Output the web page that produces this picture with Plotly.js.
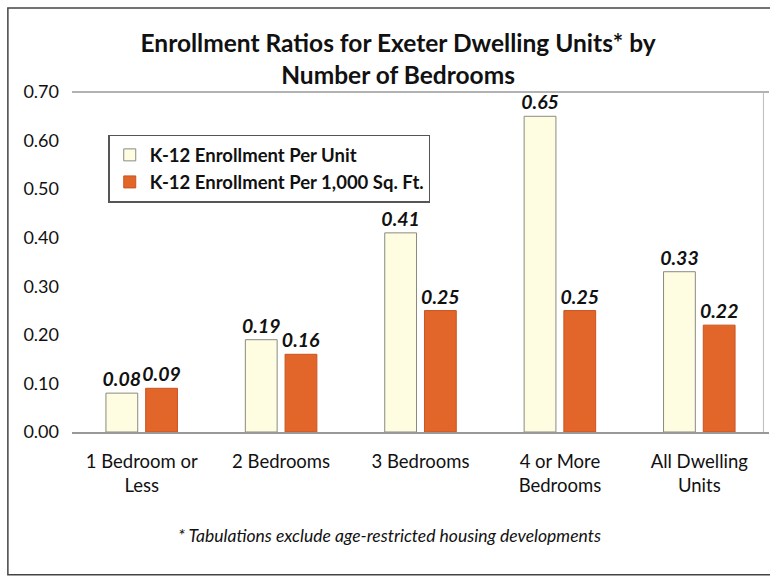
<!DOCTYPE html>
<html><head><meta charset="utf-8">
<script src="https://cdn.plot.ly/plotly-3.0.1.min.js"></script>
<style>html,body{margin:0;padding:0;background:#fff}#chart{width:770px;height:580px}</style>
</head><body><div id="chart"></div>
<script>
const categories = ["1 Bedroom or<br>Less", "2 Bedrooms", "3 Bedrooms", "4 or More<br>Bedrooms", "All Dwelling<br>Units"];
const perUnit = [0.08, 0.19, 0.41, 0.65, 0.33];
const perSqFt = [0.09, 0.16, 0.25, 0.25, 0.22];
const seriesNames = ["K-12 Enrollment Per Unit", "K-12 Enrollment Per 1,000 Sq. Ft."];
const yTicks = [0, 0.1, 0.2, 0.3, 0.4, 0.5, 0.6, 0.7];
const yTickLabels = ["0.00", "0.10", "0.20", "0.30", "0.40", "0.50", "0.60", "0.70"];

const font = "Lato, 'Open Sans', sans-serif";
const labelFont = {family: font, size: 19.5, color: "#111", weight: 700, style: "italic"};

const traces = [
  {type: "bar", name: seriesNames[0], x: categories, y: perUnit,
   marker: {color: "#FEFDE2", line: {color: "#8a8a80", width: 1}},
   text: perUnit.map(v => v.toFixed(2)), textposition: "outside", textfont: labelFont,
   constraintext: "none", cliponaxis: false},
  {type: "bar", name: seriesNames[1], x: categories, y: perSqFt,
   marker: {color: "#E2652A", line: {color: "#c85520", width: 1}},
   text: perSqFt.map(v => v.toFixed(2)), textposition: "outside", textfont: labelFont,
   constraintext: "none", cliponaxis: false}
];

const layout = {
  width: 770, height: 580,
  margin: {l: 72, r: 1, t: 92, b: 148},
  paper_bgcolor: "#fff", plot_bgcolor: "#fff",
  barmode: "group", bargap: 0.43, bargroupgap: 0.2,
  showlegend: true,
  title: {text: "<b>Enrollment Ratios for Exeter Dwelling Units* by<br>Number of Bedrooms</b>",
          font: {family: font, size: 24.5, color: "#111"}, x: 0.517, xanchor: "center", y: 0.91, yanchor: "top"},
  legend: {x: 0.052, y: 0.874, xanchor: "left", yanchor: "top", bgcolor: "#fff",
           bordercolor: "#555", borderwidth: 1.5, font: {family: font, size: 18.5, color: "#111", weight: 700},
           traceorder: "normal", itemwidth: 30, tracegroupgap: 2},
  xaxis: {tickfont: {family: font, size: 18.5, color: "#111"}, showline: true, linecolor: "#999", linewidth: 1.5,
          ticks: "", ticklabelstandoff: 12, mirror: false},
  yaxis: {range: [0, 0.7], tickvals: yTicks, ticktext: yTickLabels, showgrid: false, zeroline: false,
          tickfont: {family: font, size: 18, color: "#111"}, ticks: "", ticklabelstandoff: 12, showline: false},
  shapes: [
    {type: "line", xref: "paper", yref: "paper", x0: 0, x1: 1, y0: 1, y1: 1, line: {color: "#999", width: 1.5}},
    {type: "line", xref: "paper", yref: "paper", x0: 0.992, x1: 0.992, y0: 0, y1: 1, line: {color: "#bbb", width: 1}},
    {type: "rect", xref: "paper", yref: "paper", x0: -0.092, x1: 1.01, y0: -0.42, y1: 1.247, line: {color: "#444", width: 1.5}, fillcolor: "rgba(0,0,0,0)"}
  ],
  annotations: [
    {text: "* Tabulations exclude age-restricted housing developments", xref: "paper", yref: "paper",
     x: 0.456, y: -0.341, showarrow: false, font: {family: font, size: 17.5, color: "#111", style: "italic"}}
  ]
};

Plotly.newPlot("chart", traces, layout, {displayModeBar: false, staticPlot: true});
</script></body></html>
